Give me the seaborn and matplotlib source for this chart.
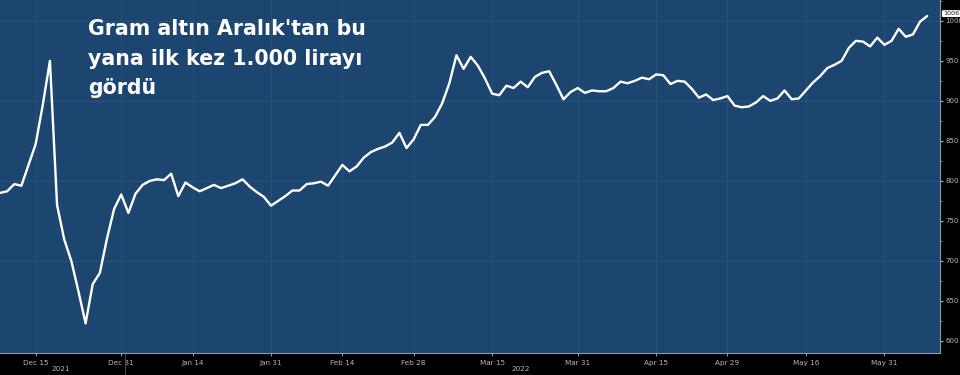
import numpy as np
import pandas as pd
import matplotlib
matplotlib.use("Agg")
import matplotlib.pyplot as plt
import matplotlib.transforms as mtransforms
import seaborn as sns

# ---- data -------------------------------------------------------------
start_date = "2021-12-08"
gram_gold_try = [
    785, 787, 796, 794, 820, 846, 895, 950, 770, 727,
    700, 662, 622, 671, 685, 728, 765, 783, 760, 784,
    795, 800, 802, 801, 809, 781, 798, 792, 787, 791,
    795, 791, 794, 797, 802, 793, 786, 780, 769, 775,
    781, 788, 788, 796, 797, 799, 794, 807, 820, 812,
    818, 829, 836, 840, 843, 848, 860, 841, 852, 870,
    870, 880, 897, 922, 957, 940, 955, 944, 928, 909,
    907, 919, 916, 924, 917, 930, 935, 937, 920, 902,
    911, 916, 910, 913, 912, 912, 916, 924, 922, 925,
    929, 927, 933, 932, 921, 925, 924, 915, 904, 908,
    901, 903, 906, 894, 892, 893, 898, 906, 900, 903,
    913, 902, 903, 913, 923, 931, 941, 945, 950, 966,
    975, 974, 968, 979, 970, 975, 990, 980, 983, 999,
    1006,
]
tick_dates = ["2021-12-15", "2021-12-31", "2022-01-14", "2022-01-31",
              "2022-02-14", "2022-02-28", "2022-03-15", "2022-03-31",
              "2022-04-15", "2022-04-29", "2022-05-16", "2022-05-31"]
tick_labels = ["Dec 15", "Dec 31", "Jan 14", "Jan 31", "Feb 14", "Feb 28",
               "Mar 15", "Mar 31", "Apr 15", "Apr 29", "May 16", "May 31"]
year_labels = ["2021", "2022"]
y_ticks = [600, 650, 700, 750, 800, 850, 900, 950, 1000]
title_text = "Gram altın Aralık'tan bu\nyana ilk kez 1.000 lirayı\ngördü"

# ---- frame ------------------------------------------------------------
dates = pd.bdate_range(start=start_date, periods=len(gram_gold_try))
df = pd.DataFrame({"date": dates, "idx": np.arange(len(dates)),
                   "value": gram_gold_try})

sns.set_theme(style="dark")
plt.rcParams["font.family"] = ["DejaVu Sans"]

BG = "#1c4670"
GRID = "#285180"
FIGBG = "#000000"
TXT = "#b8b8b8"
NARROW = ["Liberation Sans Narrow", "DejaVu Sans"]

fig = plt.figure(figsize=(9.6, 3.75), dpi=100, facecolor=FIGBG)
ax = fig.add_axes([0.0, 0.0587, 0.9792, 0.9413])
ax.set_facecolor(BG)

sns.lineplot(data=df, x="idx", y="value", ax=ax, color="white",
             linewidth=1.7, legend=False)

ax.set_xlim(0, len(dates) + 0.8)
ax.set_ylim(585, 1026)

# x ticks at business-day positions of the dates
tick_pos = [int(dates.get_indexer([pd.Timestamp(d)])[0]) for d in tick_dates]
ax.set_xticks(tick_pos)
ax.set_xticklabels(tick_labels)
ax.set_xlabel("")
ax.set_ylabel("")

ax.yaxis.tick_right()
ax.set_yticks(y_ticks)
ax.set_yticklabels([str(v) for v in y_ticks])
ax.set_yticks(np.arange(600, 1026, 25), minor=True)

ax.tick_params(axis="x", colors=TXT, labelsize=5.2, length=2, width=0.6,
               pad=3, bottom=True)
ax.tick_params(axis="y", colors=TXT, labelsize=5.0, length=2.5, width=0.8,
               pad=1.5, right=True, left=False)
ax.tick_params(axis="y", which="minor", length=1.5, width=0.5, colors=TXT,
               right=True, left=False)
for lab in ax.get_xticklabels() + ax.get_yticklabels():
    lab.set_family(NARROW)

# grid
for v in [700, 800, 900, 1000]:
    ax.axhline(v, color=GRID, linewidth=0.8, zorder=0)
for p in tick_pos:
    ax.axvline(p, color=GRID, linewidth=0.8, zorder=0)

for side in ["top", "left"]:
    ax.spines[side].set_visible(False)
ax.spines["bottom"].set_color("#8a9bb0")
ax.spines["bottom"].set_linewidth(0.8)
ax.spines["right"].set_color("#8a9bb0")
ax.spines["right"].set_linewidth(0.8)

# year labels and year separator
trans = mtransforms.blended_transform_factory(ax.transData, ax.transAxes)
year_break = int(dates.get_indexer([pd.Timestamp("2022-01-03")])[0]) - 0.5
ax.text(8.5, -0.045, year_labels[0], transform=trans, color=TXT,
        fontsize=5.2, ha="center", va="center", family=NARROW)
ax.text(73, -0.045, year_labels[1], transform=trans, color=TXT,
        fontsize=5.2, ha="center", va="center", family=NARROW)
ax.plot([year_break, year_break], [0, -0.065], transform=trans,
        color="#555555", linewidth=0.6, clip_on=False)

# last value tag
last_val = gram_gold_try[-1]
ytrans = mtransforms.blended_transform_factory(ax.transAxes, ax.transData)
ax.text(1.003, last_val + 3, f"{last_val}", transform=ytrans, fontsize=4.6,
        color="#1a1a1a", ha="left", va="center", family=NARROW,
        bbox=dict(boxstyle="round,pad=0.15", fc="white", ec="none"))

# title
fig.text(88 / 960, 1 - 19 / 375, title_text, color="white", fontsize=14.8,
         fontweight="bold", ha="left", va="top", linespacing=1.6,
         family=["DejaVu Sans"])

fig.savefig("out.png", dpi=100, facecolor=FIGBG)
